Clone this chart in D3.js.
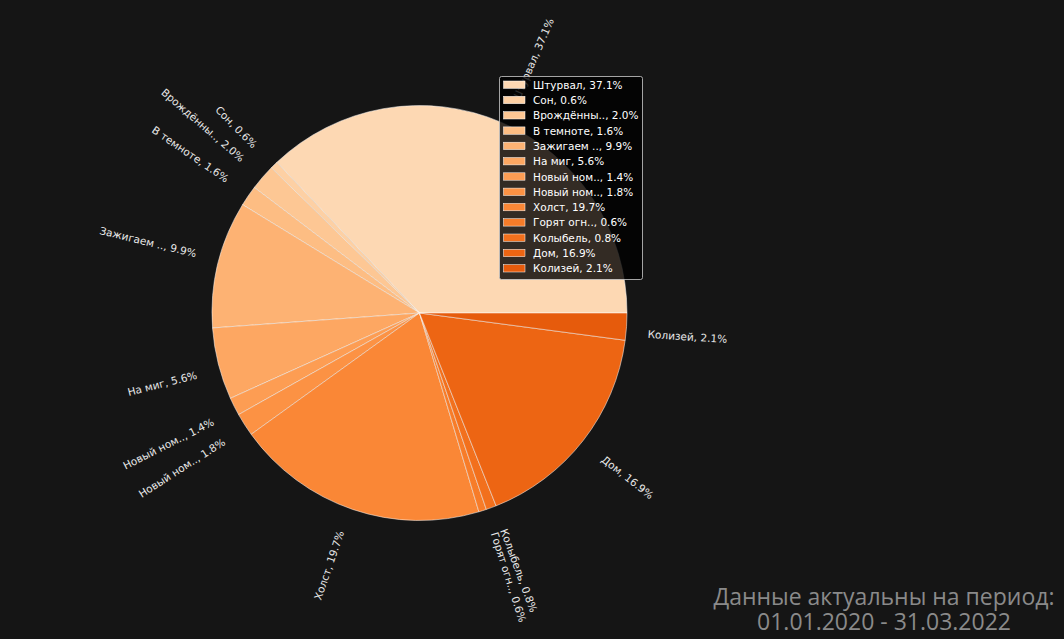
<!DOCTYPE html>
<html><head><meta charset="utf-8">
<script src="https://cdn.jsdelivr.net/npm/d3@7"></script>
<style>
html,body{margin:0;padding:0;background:#151515;}
svg{display:block;}
</style></head>
<body>
<svg id="chart" width="1064" height="639"></svg>
<script>
const categories = ["Штурвал", "Сон", "Врождённы..", "В темноте", "Зажигаем ..", "На миг", "Новый ном..", "Новый ном..", "Холст", "Горят огн..", "Колыбель", "Дом", "Колизей"];
const values = [37.1, 0.6, 2.0, 1.6, 9.9, 5.6, 1.4, 1.8, 19.7, 0.6, 0.8, 16.9, 2.1];
const footerLines = ["Данные актуальны на период:", "01.01.2020 - 31.03.2022"];

const W = 1064, H = 639;
const cx = 419.5, cy = 313, R = 207.5;
const labelFont = 10.5, legendFont = 10.5;
const svg = d3.select("#chart");
svg.append("rect").attr("width", W).attr("height", H).attr("fill", "#151515");

const labels = categories.map((c, i) => `${c}, ${values[i].toFixed(1)}%`);
const color = d3.scaleLinear().domain([0, categories.length - 1]).range([0.2, 0.68]);
const col = i => d3.interpolateOranges(color(i));

const total = d3.sum(values);
const angle = d3.scaleLinear().domain([0, total]).range([0, 2 * Math.PI]);
let cum = 0;
const slices = values.map((v, i) => {
  const t0 = angle(cum); cum += v; const t1 = angle(cum);
  return { i, t0, t1, tm: (t0 + t1) / 2 };
});

const arc = d3.arc().innerRadius(0).outerRadius(R);
const g = svg.append("g").attr("transform", `translate(${cx},${cy})`);
g.selectAll("path").data(slices).join("path")
  .attr("d", d => arc({ startAngle: Math.PI / 2 - d.t1, endAngle: Math.PI / 2 - d.t0 }))
  .attr("fill", d => col(d.i))
  .attr("stroke", "#ffffff").attr("stroke-width", 0.5).attr("stroke-linejoin", "round");

// labels, emulating matplotlib rotatelabels layout
const lg = svg.append("g");
slices.forEach(s => {
  const c = Math.cos(s.tm), sn = Math.sin(s.tm);
  const xt = cx + 1.1 * R * c, yt = cy - 1.1 * R * sn;
  const rotDeg = s.tm * 180 / Math.PI + (c > 0 ? 0 : 180);
  const rad = rotDeg * Math.PI / 180;
  const t = lg.append("text")
    .attr("font-family", "DejaVu Sans").attr("font-size", labelFont)
    .attr("fill", "#e8e8e8").attr("text-anchor", "middle").attr("dominant-baseline", "central")
    .text(labels[s.i]);
  const w = t.node().getComputedTextLength();
  const h = labelFont * 1.1;
  const BW = w * Math.abs(Math.cos(rad)) + h * Math.abs(Math.sin(rad));
  const BH = w * Math.abs(Math.sin(rad)) + h * Math.abs(Math.cos(rad));
  const mx = xt + (c > 0 ? BW / 2 : -BW / 2);
  const my = yt + (sn > 0 ? -BH / 2 : BH / 2);
  t.attr("transform", `translate(${mx},${my}) rotate(${-rotDeg})`);
});

// legend
const legX = 499, legY = 76, legW = 143, legH = 203;
const leg = svg.append("g");
leg.append("rect").attr("x", legX + 0.5).attr("y", legY + 0.5).attr("width", legW).attr("height", legH)
  .attr("rx", 2).attr("fill", "#000").attr("fill-opacity", 0.8)
  .attr("stroke", "#cccccc").attr("stroke-width", 0.8);
const rowY = d3.scaleLinear().domain([0, categories.length - 1]).range([84.7, 268.3]);
categories.forEach((c, i) => {
  const y = rowY(i);
  leg.append("rect").attr("x", 503.5).attr("y", y - 3.7).attr("width", 21.5).attr("height", 7.4)
    .attr("fill", col(i)).attr("stroke", "#ffffff").attr("stroke-width", 0.5);
  leg.append("text").attr("x", 533).attr("y", y).attr("dominant-baseline", "central")
    .attr("font-family", "DejaVu Sans").attr("font-size", legendFont).attr("fill", "#ffffff")
    .text(labels[i]);
});

// footer
const ft = svg.append("text").attr("font-family", "Open Sans").attr("font-size", 23)
  .attr("fill", "#8a8a8a").attr("text-anchor", "middle");
footerLines.forEach((l, i) => {
  ft.append("tspan").attr("x", 884).attr("y", 605 + i * 25).text(l);
});
</script>
</body></html>
